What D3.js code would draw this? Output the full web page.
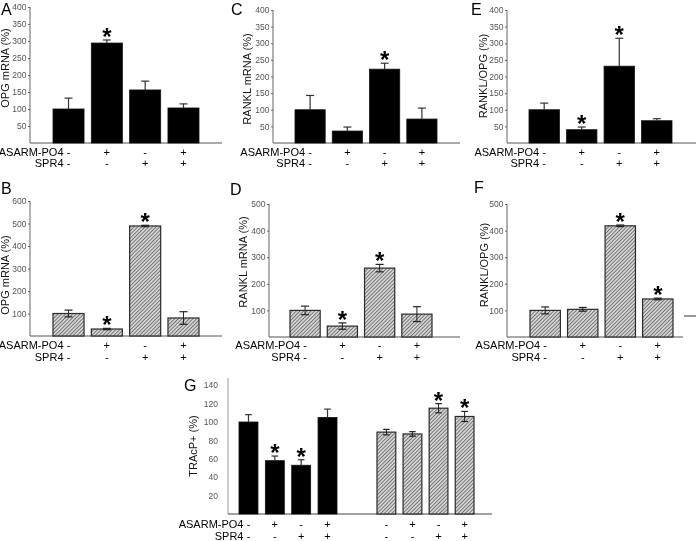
<!DOCTYPE html>
<html><head><meta charset="utf-8">
<script src="https://cdn.jsdelivr.net/npm/d3@7"></script>
<style>body{margin:0;background:#fff}svg{display:block;will-change:transform}text{font-family:"Liberation Sans",Arial,sans-serif}</style>
</head><body>
<script>
// ---- data ----
const groups = ["ctrl","asarm","spr4","both"];
const asarmRow = ["-","+","-","+"];
const spr4Row  = ["-","-","+","+"];

const opgA   = [100, 294, 156, 103];  const opgAErr   = [32, 9, 26, 12];  const opgAStar   = [0,1,0,0];
const ranklC = [100, 36, 222, 72];    const ranklCErr = [43, 12, 18, 33]; const ranklCStar = [0,0,1,0];
const ratioE = [100, 40, 231, 67];    const ratioEErr = [20, 8, 84, 6];   const ratioEStar = [0,1,1,0];
const opgB   = [100, 31, 489, 80];    const opgBErr   = [15, 3, 3, 28];   const opgBStar   = [0,1,1,0];
const ranklD = [100, 41, 259, 86];    const ranklDErr = [16, 12, 14, 28]; const ranklDStar = [0,1,1,0];
const ratioF = [100, 104, 418, 143];  const ratioFErr = [13, 7, 3, 3];    const ratioFStar = [0,0,1,1];
const tracG1 = [100, 58, 53, 105];    const tracG1Err = [8, 5, 6, 9];     const tracG1Star = [0,1,1,0];
const tracG2 = [89, 87, 115, 106];    const tracG2Err = [3, 2.5, 5, 5.5]; const tracG2Star = [0,0,1,1];

const ticksABC = [50,100,150,200,250,300,350,400];
const ticksB = [100,200,300,400,500,600];
const ticksDF = [100,200,300,400,500];
const ticksG = [20,40,60,80,100,120,140];

const W = 696, H = 541;
const svg = d3.select("body").append("svg").attr("width", W).attr("height", H);

const defs = svg.append("defs");
const pat = defs.append("pattern").attr("id","hatch").attr("patternUnits","userSpaceOnUse")
  .attr("width",2.6).attr("height",2.6).attr("patternTransform","rotate(45)");
pat.append("rect").attr("width",2.6).attr("height",2.6).attr("fill","#d4d4d4");
pat.append("line").attr("x1",0).attr("y1",0).attr("x2",0).attr("y2",2.6).attr("stroke","#4a4a4a").attr("stroke-width",1.3);

function yAxisDraw(g, y, ax, top, base, ticks, axisColor, tickLen, labelGap) {
  g.append("line").attr("x1",ax).attr("x2",ax).attr("y1",top).attr("y2",base)
    .attr("stroke",axisColor).attr("stroke-width",1);
  const axis = d3.axisLeft(y).tickValues(ticks).tickSize(tickLen).tickPadding(labelGap);
  const ga = g.append("g").attr("transform",`translate(${ax},0)`).call(axis);
  ga.select(".domain").remove();
  ga.selectAll(".tick line").attr("stroke",axisColor);
  ga.selectAll(".tick text").attr("fill","#555").style("font-size","8.5px")
    .style("font-family",'"Liberation Sans",Arial,sans-serif');
}

function bars(g, x, y, vals, errs, stars, hatched) {
  const bw = x.bandwidth();
  groups.forEach((k,i) => {
    const v = vals[i], e = errs[i];
    const x0 = x(k), cx = x0 + bw/2;
    g.append("rect").attr("x",x0).attr("y",y(v)).attr("width",bw).attr("height",y(0)-y(v))
      .attr("fill", hatched ? "url(#hatch)" : "#000")
      .attr("stroke", hatched ? "#2a2a2a" : "#111").attr("stroke-width", hatched ? 1.2 : 0.8);
    const cap = Math.min(8, bw*0.35);
    if (hatched) {
      g.append("line").attr("x1",cx).attr("x2",cx).attr("y1",y(v+e)).attr("y2",y(v-e)).attr("stroke","#222").attr("stroke-width",1);
      [v+e, v-e].forEach(t => g.append("line").attr("x1",cx-cap/2).attr("x2",cx+cap/2).attr("y1",y(t)).attr("y2",y(t)).attr("stroke","#222").attr("stroke-width",1.2));
    } else {
      g.append("line").attr("x1",cx).attr("x2",cx).attr("y1",y(v+e)).attr("y2",y(v)).attr("stroke","#333").attr("stroke-width",1.2);
      g.append("line").attr("x1",cx-cap/2).attr("x2",cx+cap/2).attr("y1",y(v+e)).attr("y2",y(v+e)).attr("stroke","#333").attr("stroke-width",1.2);
    }
    if (stars[i]) {
      g.append("text").attr("x",cx).attr("y",y(v+e) - 8 + 13).attr("text-anchor","middle")
        .style("font-size","24px").style("font-weight","bold").attr("fill","#000").text("*");
    }
  });
}

function rows(g, x, rowY, withTitles) {
  const bw = x.bandwidth();
  [asarmRow, spr4Row].forEach((row, r) => {
    groups.forEach((k,i) => {
      g.append("text").attr("x", x(k)+bw/2).attr("y", rowY[r]).attr("text-anchor","middle")
        .attr("fill","#000").style("font-size","11px").text(row[i]);
    });
    if (withTitles) {
      g.append("text").attr("x", x(groups[0]) + bw/2 - 5).attr("y", rowY[r]).attr("text-anchor","end")
        .attr("fill","#000").style("font-size","11px").text(r === 0 ? "ASARM-PO4" : "SPR4");
    }
  });
}

function panel(cfg) {
  const g = svg.append("g");
  const y = d3.scaleLinear().domain([0, cfg.yMax]).range([cfg.base, cfg.top]);
  const x = d3.scaleBand().domain(groups).range([cfg.bx0, cfg.bx1]).paddingInner(cfg.pad).paddingOuter(0);
  yAxisDraw(g, y, cfg.ax, cfg.top, cfg.base, cfg.ticks, "#666", 2, 1.5);
  g.append("line").attr("x1",cfg.ax).attr("x2",cfg.axEnd).attr("y1",cfg.base).attr("y2",cfg.base).attr("stroke","#555").attr("stroke-width",1);
  bars(g, x, y, cfg.vals, cfg.errs, cfg.stars, cfg.hatched);
  rows(g, x, cfg.rowY, true);
  g.append("text").attr("x",cfg.letterX).attr("y",cfg.letterY).style("font-size","16px").text(cfg.letter);
  g.append("text").attr("transform",`translate(${cfg.labX},${cfg.labY}) rotate(-90)`).attr("text-anchor","middle")
    .style("font-size","11px").attr("fill","#111").text(cfg.label);
}

panel({letter:"A", letterX:1, letterY:15, label:"OPG mRNA (%)", labX:9, labY:68,
  ax:30, axEnd:222, top:7, base:143, yMax:400, ticks:ticksABC, bx0:53, bx1:199, pad:0.19,
  vals:opgA, errs:opgAErr, stars:opgAStar, hatched:false, rowY:[156,167]});
panel({letter:"C", letterX:231, letterY:15, label:"RANKL mRNA (%)", labX:251, labY:79,
  ax:273, axEnd:460, top:10, base:143, yMax:400, ticks:ticksABC, bx0:295, bx1:437, pad:0.19,
  vals:ranklC, errs:ranklCErr, stars:ranklCStar, hatched:false, rowY:[156,167]});
panel({letter:"E", letterX:471, letterY:15, label:"RANKL/OPG (%)", labX:487, labY:76,
  ax:507, axEnd:696, top:10, base:143, yMax:400, ticks:ticksABC, bx0:529, bx1:672, pad:0.19,
  vals:ratioE, errs:ratioEErr, stars:ratioEStar, hatched:false, rowY:[156,167]});

panel({letter:"B", letterX:1, letterY:194, label:"OPG mRNA (%)", labX:9, labY:275,
  ax:30, axEnd:222, top:201, base:336, yMax:600, ticks:ticksB, bx0:53, bx1:199, pad:0.19,
  vals:opgB, errs:opgBErr, stars:opgBStar, hatched:true, rowY:[349,361]});
panel({letter:"D", letterX:230, letterY:195, label:"RANKL mRNA (%)", labX:247, labY:262,
  ax:269, axEnd:460, top:204, base:337, yMax:500, ticks:ticksDF, bx0:290, bx1:432, pad:0.19,
  vals:ranklD, errs:ranklDErr, stars:ranklDStar, hatched:true, rowY:[349,361]});
panel({letter:"F", letterX:474, letterY:193, label:"RANKL/OPG (%)", labX:488, labY:265,
  ax:507, axEnd:683, top:204, base:337, yMax:500, ticks:ticksDF, bx0:530, bx1:673, pad:0.19,
  vals:ratioF, errs:ratioFErr, stars:ratioFStar, hatched:true, rowY:[349,361]});

// small dash at right of F
svg.append("line").attr("x1",684).attr("x2",696).attr("y1",316).attr("y2",316).attr("stroke","#333").attr("stroke-width",1);

// ---- panel G ----
(function(){
  const g = svg.append("g");
  const base = 514, top = 376;
  const y = d3.scaleLinear().domain([0,150]).range([base, top]);
  const x1 = d3.scaleBand().domain(groups).range([239,337]).paddingInner(0.28).paddingOuter(0);
  const x2 = d3.scaleBand().domain(groups).range([377,474]).paddingInner(0.28).paddingOuter(0);
  yAxisDraw(g, y, 228, 378, base, ticksG, "#999", 0, 10);
  g.append("line").attr("x1",228).attr("x2",492).attr("y1",base).attr("y2",base).attr("stroke","#444").attr("stroke-width",1);
  bars(g, x1, y, tracG1, tracG1Err, tracG1Star, false);
  bars(g, x2, y, tracG2, tracG2Err, tracG2Star, true);
  rows(g, x1, [528,540], true);
  rows(g, x2, [528,540], false);
  g.append("text").attr("x",184).attr("y",391).style("font-size","16px").text("G");
  g.append("text").attr("transform","translate(197,446) rotate(-90)").attr("text-anchor","middle")
    .style("font-size","11px").attr("fill","#111").text("TRAcP+ (%)");
})();
</script>
</body></html>
